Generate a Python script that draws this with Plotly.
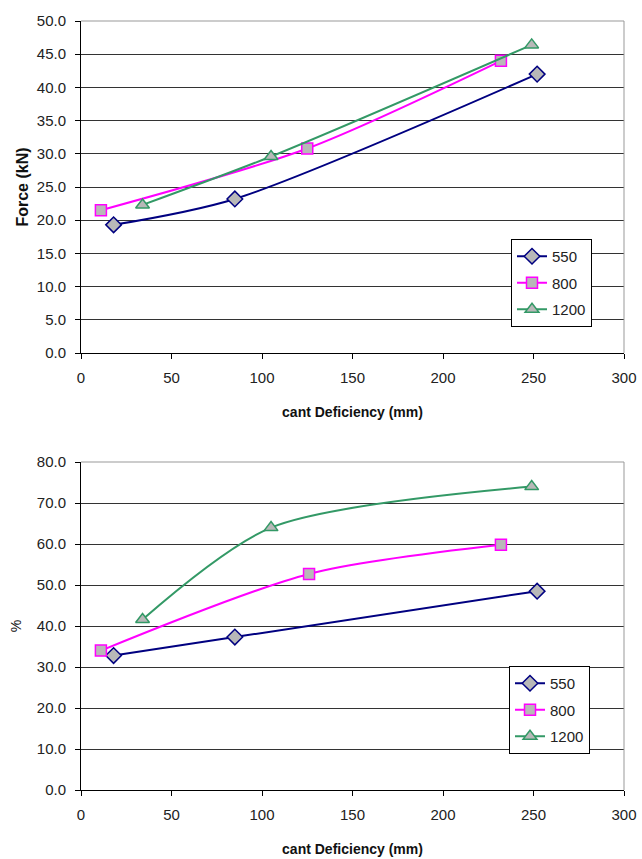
import plotly.graph_objects as go

# ---- data ----
series_names = ["550", "800", "1200"]

force_x_550 = [18, 85, 252]
force_y_550 = [19.3, 23.2, 42.0]
force_x_800 = [11, 125, 232]
force_y_800 = [21.5, 30.8, 44.0]
force_x_1200 = [34, 105, 249]
force_y_1200 = [22.3, 29.6, 46.4]

pct_x_550 = [18, 85, 252]
pct_y_550 = [32.8, 37.3, 48.5]
pct_x_800 = [11, 126, 232]
pct_y_800 = [34.0, 52.7, 59.8]
pct_x_1200 = [34, 105, 249]
pct_y_1200 = [41.6, 64.0, 74.0]

x_ticks = [0, 50, 100, 150, 200, 250, 300]
force_ticks = [0, 5, 10, 15, 20, 25, 30, 35, 40, 45, 50]
pct_ticks = [0, 10, 20, 30, 40, 50, 60, 70, 80]

# ---- styles ----
colors = {"550": "#000080", "800": "#ff00ff", "1200": "#339966"}
symbols = {"550": "diamond", "800": "square", "1200": "triangle-up"}
sizes = {"550": 12, "800": 11, "1200": 12}
FONT = "Liberation Sans, Arial, sans-serif"

fig = go.Figure()

top = {"550": (force_x_550, force_y_550), "800": (force_x_800, force_y_800),
       "1200": (force_x_1200, force_y_1200)}
bot = {"550": (pct_x_550, pct_y_550), "800": (pct_x_800, pct_y_800),
       "1200": (pct_x_1200, pct_y_1200)}

for name in series_names:
    xs, ys = top[name]
    fig.add_trace(go.Scatter(
        x=xs, y=ys, name=name, mode="lines+markers",
        line=dict(color=colors[name], width=2, shape="spline", smoothing=0.8),
        marker=dict(symbol=symbols[name], size=sizes[name], color="#b8b8b8",
                    line=dict(color=colors[name], width=1.5)),
        xaxis="x", yaxis="y", legend="legend", legendgroup="t" + name))
for name in series_names:
    xs, ys = bot[name]
    fig.add_trace(go.Scatter(
        x=xs, y=ys, name=name, mode="lines+markers",
        line=dict(color=colors[name], width=2, shape="spline", smoothing=0.8),
        marker=dict(symbol=symbols[name], size=sizes[name], color="#b8b8b8",
                    line=dict(color=colors[name], width=1.5)),
        xaxis="x2", yaxis="y2", legend="legend2", legendgroup="b" + name))

W, H = 642, 859
xdom = [81 / W, 624 / W]
ydom_top = [1 - 353 / H, 1 - 21 / H]
ydom_bot = [1 - 790 / H, 1 - 462 / H]

xcommon = dict(range=[0, 300], tickvals=x_ticks, showgrid=False, zeroline=False,
               showline=True, linecolor="#000000", linewidth=1, automargin=False,
               ticks="outside", ticklen=5, tickcolor="#000000", ticklabelstandoff=6,
               tickfont=dict(family=FONT, size=15, color="#222222"), domain=xdom)
ycommon = dict(showgrid=True, gridcolor="#333333", gridwidth=1, zeroline=False,
               showline=True, linecolor="#000000", linewidth=1, automargin=False,
               ticks="outside", ticklen=5, tickcolor="#000000", tickformat=".1f",
               ticklabelstandoff=6,
               tickfont=dict(family=FONT, size=15, color="#222222"))

fig.update_layout(
    width=W, height=H, margin=dict(l=0, r=0, t=0, b=0),
    paper_bgcolor="white", plot_bgcolor="white", showlegend=True,
    xaxis=dict(**xcommon, anchor="y",
               title=dict(text="<b>cant Deficiency (mm)</b>", standoff=22,
                          font=dict(family=FONT, size=14, color="#111111"))),
    yaxis=dict(**ycommon, range=[0, 50], tickvals=force_ticks, domain=ydom_top, anchor="x",
               title=dict(text="<b>Force (kN)</b>", standoff=4,
                          font=dict(family=FONT, size=16, color="#111111"))),
    xaxis2=dict(**xcommon, anchor="y2",
                title=dict(text="<b>cant Deficiency (mm)</b>", standoff=22,
                           font=dict(family=FONT, size=14, color="#111111"))),
    yaxis2=dict(**ycommon, range=[0, 80], tickvals=pct_ticks, domain=ydom_bot, anchor="x2",
                title=dict(text="%", standoff=11,
                           font=dict(family=FONT, size=14, color="#111111"))),
    legend=dict(x=511 / W, y=1 - 239 / H, xanchor="left", yanchor="top",
                bgcolor="white", bordercolor="#000000", borderwidth=1,
                traceorder="grouped", tracegroupgap=4,
                font=dict(family=FONT, size=15, color="#222222")),
    legend2=dict(x=509 / W, y=1 - 666 / H, xanchor="left", yanchor="top",
                 bgcolor="white", bordercolor="#000000", borderwidth=1,
                 traceorder="grouped", tracegroupgap=4,
                 font=dict(family=FONT, size=15, color="#222222")),
)

# plot-area borders (top/right in grey)
for xr, yr in (("x domain", "y domain"), ("x2 domain", "y2 domain")):
    fig.add_shape(type="line", xref=xr, yref=yr, x0=0, x1=1, y0=1, y1=1,
                  line=dict(color="#999999", width=1))
    fig.add_shape(type="line", xref=xr, yref=yr, x0=1, x1=1, y0=0, y1=1,
                  line=dict(color="#999999", width=1))

fig.write_html("out.html")
